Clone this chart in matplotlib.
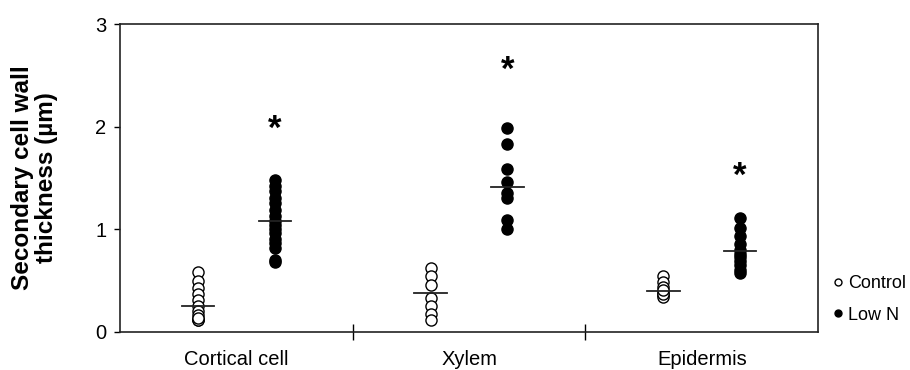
import matplotlib.pyplot as plt
import numpy as np

plt.rcParams['font.family'] = ['Liberation Sans', 'DejaVu Sans']

categories = ['Cortical cell', 'Xylem', 'Epidermis']

control = [
    [0.58, 0.50, 0.43, 0.37, 0.31, 0.25, 0.20, 0.16, 0.13, 0.12, 0.12, 0.14],
    [0.62, 0.54, 0.46, 0.33, 0.25, 0.17, 0.12],
    [0.54, 0.49, 0.44, 0.39, 0.36, 0.34, 0.37, 0.41],
]
low_n = [
    [1.48, 1.42, 1.37, 1.30, 1.26, 1.19, 1.13, 1.08, 1.04, 1.00, 0.96, 0.91, 0.87, 0.82, 0.70, 0.68],
    [1.99, 1.83, 1.59, 1.46, 1.35, 1.30, 1.09, 1.00],
    [1.11, 1.01, 0.93, 0.86, 0.80, 0.76, 0.73, 0.69, 0.65, 0.60, 0.57],
]
control_mean = [0.25, 0.38, 0.40]
low_n_mean = [1.08, 1.41, 0.79]
star_y = [1.97, 2.55, 1.52]

off = 0.165
half = 0.07

fig = plt.figure(figsize=[9.1, 3.7], dpi=100)
ax = fig.add_axes([0.132, 0.103, 0.767, 0.832])

for i in range(len(categories)):
    x = i + 1
    ax.plot(np.full(len(control[i]), x - off), control[i], 'o', ms=8, mfc='white', mec='black', mew=1.0,
            zorder=3)
    ax.plot(np.full(len(low_n[i]), x + off), low_n[i], 'o', ms=8, mfc='black', mec='black', zorder=3)
    ax.plot([x - off - half, x - off + half], [control_mean[i]] * 2, color='#222222', lw=1.3, zorder=4)
    ax.plot([x + off - half, x + off + half], [low_n_mean[i]] * 2, color='#222222', lw=1.3, zorder=4)
    ax.text(x + off, star_y[i], '*', ha='center', va='center', fontsize=25, fontweight='bold')

# legend handles
ax.plot([], [], 'o', ms=5, mfc='white', mec='black', mew=1.0, label='Control')
ax.plot([], [], 'o', ms=5, mfc='black', mec='black', label='Low N')
ax.legend(loc='center left', bbox_to_anchor=(1.002, 0.105), frameon=False, fontsize=13,
          handlelength=0.6, handletextpad=0.3, labelspacing=0.8, borderaxespad=0.3)

ax.set_xlim(0.5, 3.5)
ax.set_ylim(0, 3)
ax.set_yticks([0, 1, 2, 3])
ax.set_xticks([1.5, 2.5])
ax.set_xticklabels([])
ax.set_xticks([1, 2, 3], minor=True)
ax.set_xticklabels(categories, minor=True, fontsize=14.5)
ax.tick_params(axis='x', which='minor', length=0, pad=13)
ax.tick_params(axis='x', which='major', direction='inout', length=12, width=1.0)
ax.tick_params(axis='y', direction='out', length=4, width=1.0, labelsize=14.5, pad=6)
for s in ax.spines.values():
    s.set_linewidth(1.2)
    s.set_color('#222222')

ax.set_ylabel('Secondary cell wall\nthickness (µm)', fontsize=17.5, fontweight='bold', linespacing=1.05)
ax.yaxis.set_label_coords(-0.089, 0.5)

plt.savefig('out.png', dpi=100)
plt.close()
